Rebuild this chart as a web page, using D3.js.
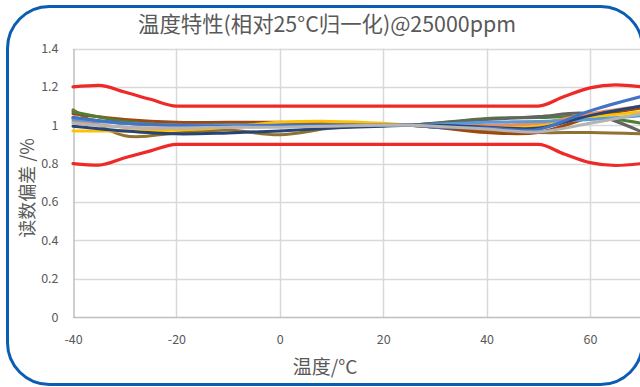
<!DOCTYPE html>
<html>
<head>
<meta charset="utf-8">
<script src="https://cdn.jsdelivr.net/npm/d3@7"></script>
<style>
  html, body { margin: 0; padding: 0; background: #fff; }
  svg { display: block; }
  text { font-family: "Noto Sans CJK SC", "Noto Sans", sans-serif; fill: #595959; }
</style>
</head>
<body>
<svg id="chart" width="640" height="387"></svg>
<script>
// Temperature points (°C) at which each unit was read
const temps = [-40, -30, -20, -10, 0, 10, 20, 25, 30, 40, 50, 60, 70];

// Normalised readings (25 °C = 1) for each tested unit
const unitBrown     = [1.06, 1.03, 1.015, 1.015, 1.015, 1.01, 1.005, 1, 0.99, 0.962, 0.962, 1.04, 1.09];
const unitGreen     = [1.07, 1.02, 1.0, 1.0, 1.0, 1.0, 1.0, 1, 1.01, 1.035, 1.04, 1.045, 1.01];
const unitOlive     = [1.08, 0.945, 0.96, 0.975, 0.95, 0.985, 1.0, 1, 0.99, 0.975, 0.962, 0.962, 0.955];
const unitDarkGray  = [1.04, 1.01, 1.0, 1.0, 1.0, 1.0, 1.0, 1, 1.01, 1.03, 1.045, 1.06, 0.965];
const unitYellow    = [0.97, 0.97, 0.975, 0.99, 1.015, 1.02, 1.01, 1, 0.995, 0.995, 1.0, 1.04, 1.07];
const unitOrange    = [1.02, 0.99, 0.985, 0.99, 0.995, 1.0, 1.0, 1, 1.0, 1.0, 1.01, 1.06, 1.10];
const unitLightBlue = [1.03, 1.01, 1.0, 1.0, 1.0, 1.0, 1.0, 1, 1.005, 1.015, 1.02, 1.03, 1.05];
const unitNavy      = [0.995, 0.97, 0.955, 0.96, 0.97, 0.985, 0.995, 1, 1.0, 0.99, 0.985, 1.05, 1.10];
const unitBlue      = [1.04, 1.01, 1.0, 0.995, 1.0, 1.0, 1.0, 1, 0.99, 0.985, 0.978, 1.075, 1.15];
const unitGray      = [1.01, 0.99, 0.985, 0.99, 0.99, 0.995, 1.0, 1, 0.995, 0.98, 0.965, 1.01, 1.06];

// Tolerance band (±10 % in the middle range, ±20 % at the extremes)
const limitTemps = [-40, -35, -30, -25, -20, 0, 20, 40, 50, 55, 60, 65, 70];
const limitUpper = [1.2, 1.208, 1.173, 1.135, 1.1, 1.1, 1.1, 1.1, 1.1, 1.15, 1.195, 1.21, 1.2];
const limitLower = [0.8, 0.792, 0.83, 0.866, 0.9, 0.9, 0.9, 0.9, 0.9, 0.85, 0.805, 0.79, 0.8];

const xTicks = [-40, -20, 0, 20, 40, 60];
const xGrid = [-20, 0, 20, 40, 60, 80];
const yTicks = [0, 0.2, 0.4, 0.6, 0.8, 1, 1.2, 1.4];

const titleText = "温度特性(相对25°C归一化)@25000ppm";
const xTitle = "温度/°C";
const yTitle = "读数偏差 /%";

const series = [
  { name: "olive",     color: "#8F7130", values: unitOlive },
  { name: "brown",     color: "#9E480E", values: unitBrown },
  { name: "green",     color: "#4E7F34", values: unitGreen },
  { name: "darkgray",  color: "#636363", values: unitDarkGray },
  { name: "yellow",    color: "#FFC000", values: unitYellow },
  { name: "orange",    color: "#EE8D5C", values: unitOrange },
  { name: "lightblue", color: "#5B9BD5", values: unitLightBlue },
  { name: "navy",      color: "#264478", values: unitNavy },
  { name: "blue",      color: "#4472C4", values: unitBlue },
  { name: "gray",      color: "#B4B4B4", values: unitGray }
];

const svg = d3.select("#chart");
const plot = { left: 73, top: 48.5, bottom: 317 };

const x = d3.scaleLinear().domain([-40, 60]).range([plot.left, 590]);
const xMax = x(80);
const y = d3.scaleLinear().domain([0, 1.4]).range([plot.bottom, plot.top]);

// Grid
const grid = svg.append("g");
grid.selectAll("line.h").data(yTicks.filter(d => d > 0)).join("line")
  .attr("x1", plot.left).attr("x2", xMax)
  .attr("y1", d => Math.round(y(d)) + 0.5).attr("y2", d => Math.round(y(d)) + 0.5)
  .attr("stroke", "#d9d9d9").attr("stroke-width", 1.5);
grid.selectAll("line.v").data(xGrid).join("line")
  .attr("x1", d => Math.round(x(d)) + 0.5).attr("x2", d => Math.round(x(d)) + 0.5)
  .attr("y1", plot.top).attr("y2", plot.bottom)
  .attr("stroke", "#d9d9d9").attr("stroke-width", 1.5);

// Axes
const xAxis = svg.append("g").attr("transform", `translate(0,${Math.round(plot.bottom) + 0.5})`)
  .call(d3.axisBottom(x).tickValues(xTicks).tickSize(0).tickPadding(18).tickFormat(d => String(d)));
xAxis.select(".domain").attr("stroke", "#bfbfbf").attr("stroke-width", 1.5).attr("d", `M${plot.left},0H${xMax}`);
xAxis.selectAll("text").style("font-size", "12.5px").attr("fill", "#595959");

const yAxis = svg.append("g").attr("transform", `translate(${plot.left + 0.5},0)`)
  .call(d3.axisLeft(y).tickValues(yTicks).tickSize(0).tickPadding(15).tickFormat(d => String(d)));
yAxis.select(".domain").attr("stroke", "#bfbfbf").attr("stroke-width", 1.5);
yAxis.selectAll("text").style("font-size", "12.5px").attr("fill", "#595959");

// Data lines: smooth curves for the units, monotone curves for the tolerance band
const unitLine = d3.line().curve(d3.curveCatmullRom.alpha(0.5));
const limitLine = d3.line().curve(d3.curveMonotoneX);
const lines = svg.append("g").attr("fill", "none").attr("stroke-width", 3)
  .attr("stroke-linejoin", "round").attr("stroke-linecap", "round");

[limitUpper, limitLower].forEach(vals => {
  lines.append("path")
    .attr("d", limitLine(limitTemps.map((t, i) => [x(t), y(vals[i])])))
    .attr("stroke", "#EF2828").attr("stroke-width", 3.2);
});

series.forEach(s => {
  lines.append("path")
    .attr("d", unitLine(temps.map((t, i) => [x(t), y(s.values[i])])))
    .attr("stroke", s.color);
});

// Titles
const title = svg.append("text").attr("x", 327).attr("y", 32)
  .attr("text-anchor", "middle").style("font-size", "20px").text(titleText);
const w = title.node().getComputedTextLength();
title.style("font-size", (20 * 378 / w).toFixed(2) + "px");

svg.append("text").attr("x", 325).attr("y", 374)
  .attr("text-anchor", "middle").style("font-size", "19px").text(xTitle);

svg.append("text").attr("transform", "translate(34,188) rotate(-90)")
  .attr("text-anchor", "middle").style("font-size", "18px").text(yTitle);

// Rounded frame
svg.append("rect").attr("x", 7.5).attr("y", 6.5).attr("width", 635).attr("height", 378)
  .attr("rx", 42).attr("ry", 42)
  .attr("fill", "none").attr("stroke", "#0B5CB3").attr("stroke-width", 3);
</script>
</body>
</html>
